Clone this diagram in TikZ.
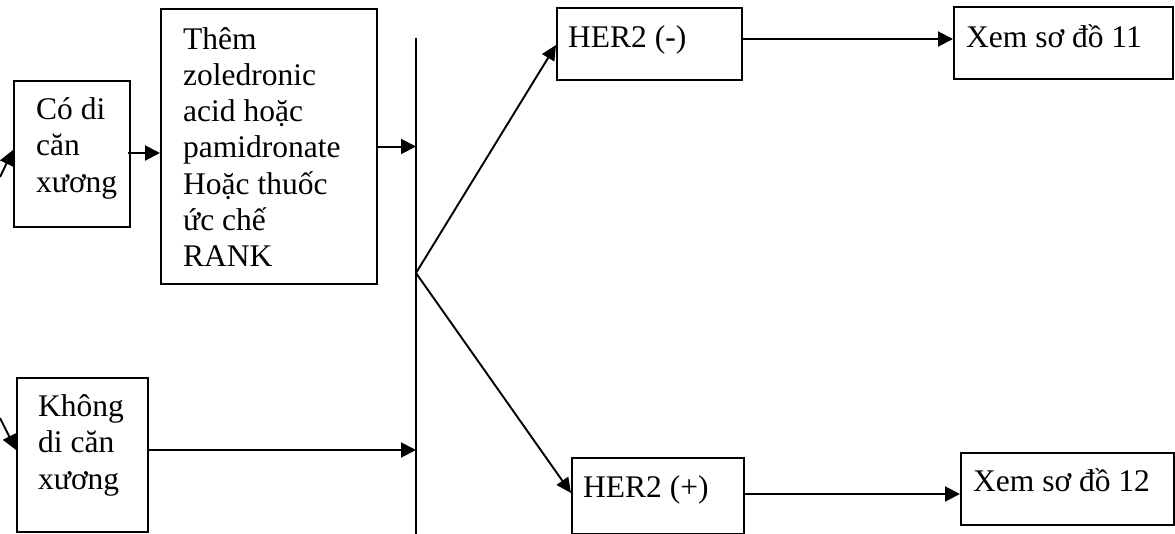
\documentclass[tikz,border=0pt]{standalone}
\usepackage{fontspec}
\setmainfont{Liberation Serif}
\usetikzlibrary{arrows.meta}
\begin{document}
\begin{tikzpicture}[x=1pt,y=-1pt,
  box/.style={draw,line width=2pt,inner sep=0pt,minimum width=#1},
  txt/.style={inner sep=0pt,anchor=base west,align=left,font=\fontsize{31.5}{36.2}\selectfont},
  arr/.style={line width=2pt,-{Triangle[length=15pt,width=15pt]}},
  darr/.style={line width=1.9pt,-{Triangle[length=15pt,width=14pt]}}]
\useasboundingbox (0,0) rectangle (1175,533);
% boxes
\node[box=116pt,minimum height=146pt] (co) at (72,154) {};
\node[box=216pt,minimum height=275pt] (th) at (269,146.5) {};
\node[box=131pt,minimum height=154pt] (kh) at (82.5,455) {};
\node[box=185pt,minimum height=72pt] (hm) at (649.5,44) {};
\node[box=219pt,minimum height=72pt] (x11) at (1063.5,43) {};
\node[box=172pt,minimum height=76pt] (hp) at (658,496) {};
\node[box=213pt,minimum height=72pt] (x12) at (1067.5,489) {};
% texts (anchored at the baseline of the last line)
\node[txt] (coT) at (36,192) {Có di\\căn\\xương};
\node[txt] (thT) at (183,266.5) {Thêm\\zoledronic\\acid hoặc\\pamidronate\\Hoặc thuốc\\ức chế\\RANK};
\node[txt] (khT) at (38,489) {Không\\di căn\\xương};
\node[txt] (hmT) at (568,47.5) {HER2 (-)};
\node[txt] (x11T) at (966,47) {Xem sơ đồ 11};
\node[txt] (hpT) at (583,497) {HER2 (+)};
\node[txt] (x12T) at (973,491) {Xem sơ đồ 12};
% vertical line
\coordinate (vtop) at (416,38);
\coordinate (vbot) at (416,535);
\coordinate (br) at (416,273);
\draw[line width=1.8pt] (vtop) -- (vbot);
% connector start points
\coordinate (coE) at ([xshift=-3pt,yshift=1pt]co.east);
\coordinate (khE) at ([yshift=5pt]kh.east);
\coordinate (hmE) at ([yshift=5pt]hm.east);
\coordinate (hpE) at ([yshift=2pt]hp.east);
% incoming arrows from left
\coordinate (in1) at (0,177);
\coordinate (in2) at (0,418);
\draw[darr] (in1) -- ([yshift=4pt]co.west);
\draw[darr] (in2) -- ([yshift=5pt]kh.west);
% horizontal arrows
\draw[arr] (coE) -- (th.west |- coE);
\draw[arr] (th.east) -- (vtop |- th.east);
\draw[arr] (khE) -- (vtop |- khE);
\draw[arr] (hmE) -- (x11.west |- hmE);
\draw[arr] (hpE) -- (x12.west |- hpE);
% branches
\draw[darr] (br) -- ([yshift=-1pt]hm.west);
\draw[darr] (br) -- ([yshift=3pt]hp.west);
\end{tikzpicture}
\end{document}
